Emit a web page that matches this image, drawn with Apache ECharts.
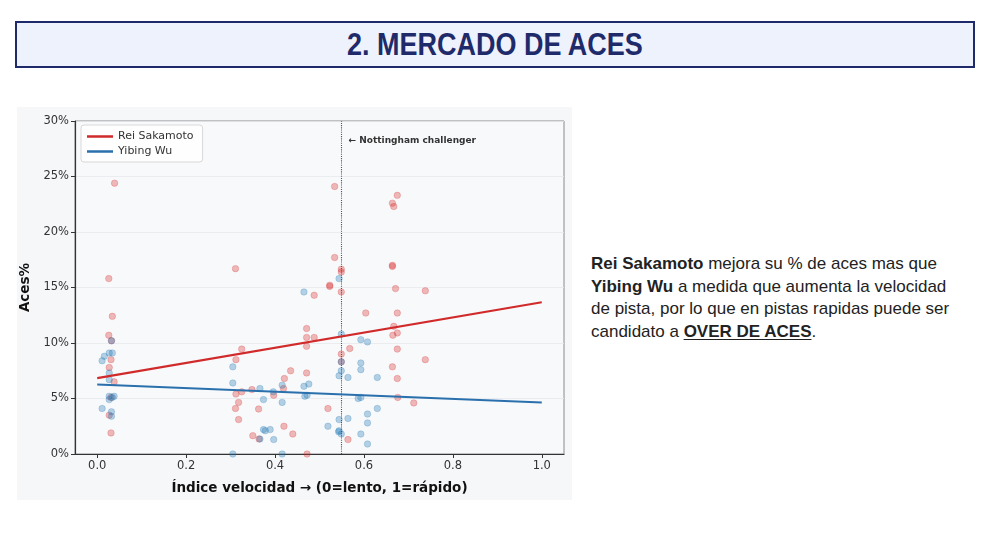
<!DOCTYPE html>
<html>
<head>
<meta charset="utf-8">
<script src="https://cdn.jsdelivr.net/npm/echarts@6/dist/echarts.min.js"></script>
<style>
  body { margin: 0; background: #fff; width: 984px; height: 541px; position: relative; overflow: hidden; }
  #title {
    position: absolute; left: 15px; top: 21px; width: 956px; height: 43px;
    border: 2px solid #1f2a6b; background: #eef2fc;
    color: #1f2a6b; font-family: "Liberation Sans", Arial, sans-serif;
    font-weight: bold; font-size: 31px; line-height: 43px; text-align: center;
  }
  #title span { display: inline-block; transform: scaleX(0.87); }
  #chart { position: absolute; left: 17px; top: 107px; width: 555px; height: 393px; background: #f6f7f9; }
  #note {
    position: absolute; left: 591px; top: 253px; width: 390px;
    font-family: "Liberation Sans", Arial, sans-serif; font-size: 17px; line-height: 22.7px; color: #222;
    white-space: nowrap;
  }
  #note u { text-underline-offset: 2px; }
</style>
</head>
<body>
<div id="title"><span>2. MERCADO DE ACES</span></div>
<div id="chart"></div>
<div id="note">
  <b>Rei Sakamoto</b> mejora su % de aces mas que<br>
  <b>Yibing Wu</b> a medida que aumenta la velocidad<br>
  de pista, por lo que en pistas rapidas puede ser<br>
  candidato a <b><u>OVER DE ACES</u></b>.
</div>
<script>
// puntos por partido: [indice velocidad, aces%]
const reiPoints = [
  [0.039, 24.4], [0.026, 15.8], [0.034, 12.4], [0.026, 10.7], [0.032, 10.2], [0.031, 8.5],
  [0.027, 7.8], [0.038, 6.5], [0.031, 5.1], [0.027, 3.5], [0.031, 1.9],
  [0.311, 16.7], [0.325, 9.45], [0.312, 8.5], [0.312, 5.4], [0.318, 4.65], [0.311, 4.1],
  [0.318, 3.1], [0.325, 5.6], [0.348, 5.8], [0.363, 4.05], [0.35, 1.65], [0.364, 1.35],
  [0.419, 5.9], [0.421, 6.8], [0.435, 7.5], [0.397, 5.3], [0.42, 2.5], [0.44, 1.8],
  [0.488, 14.3], [0.471, 11.3], [0.471, 10.5], [0.488, 10.5], [0.471, 9.7], [0.471, 7.3], [0.472, 0.0],
  [0.534, 24.1], [0.534, 17.7], [0.549, 16.65], [0.549, 16.4], [0.523, 15.2], [0.523, 15.1],
  [0.549, 14.6], [0.568, 9.5], [0.549, 9.0], [0.549, 8.3], [0.519, 4.1], [0.564, 1.3],
  [0.604, 12.7],
  [0.675, 23.3], [0.664, 22.6], [0.667, 22.3], [0.664, 17.0], [0.664, 16.9], [0.671, 14.9],
  [0.738, 14.7], [0.675, 12.7], [0.667, 11.5], [0.675, 10.9], [0.665, 10.7], [0.675, 9.45],
  [0.664, 7.85], [0.738, 8.5], [0.675, 6.8], [0.676, 5.1], [0.712, 4.6]
]
const yibingPoints = [
  [0.032, 10.2], [0.016, 8.8], [0.011, 8.4], [0.027, 9.1], [0.034, 9.1], [0.027, 7.3],
  [0.027, 6.7], [0.027, 5.2], [0.038, 5.2], [0.027, 4.9], [0.011, 4.1], [0.032, 3.8],
  [0.032, 3.4], [0.034, 5.1],
  [0.305, 7.85], [0.305, 6.4], [0.305, 0], [0.366, 5.9], [0.374, 4.9], [0.374, 2.2],
  [0.389, 2.2], [0.378, 2.1], [0.366, 1.35], [0.397, 1.3], [0.416, 6.2], [0.416, 4.65],
  [0.416, 0], [0.396, 5.6],
  [0.465, 14.6], [0.476, 6.3], [0.465, 6.1], [0.467, 5.2], [0.472, 5.3],
  [0.544, 15.8], [0.549, 10.8], [0.549, 8.3], [0.549, 7.5], [0.544, 7.05], [0.564, 6.9],
  [0.544, 3.1], [0.564, 3.2], [0.519, 2.5], [0.544, 2.1], [0.549, 1.8], [0.543, 2.0],
  [0.593, 10.3], [0.608, 10.1], [0.593, 8.2], [0.593, 7.6], [0.587, 5.0], [0.593, 5.1],
  [0.608, 3.6], [0.608, 2.8], [0.593, 1.8], [0.608, 0.9],
  [0.63, 6.9], [0.63, 4.1]
]
// rectas de tendencia
const reiTrend = [[0, 6.83], [1, 13.67]]
const yibingTrend = [[0, 6.26], [1, 4.64]]
const xTicks = [0, 0.2, 0.4, 0.6, 0.8, 1.0]
const nottinghamX = 0.552
const playerNames = ['Rei Sakamoto', 'Yibing Wu']

const chart = echarts.init(document.getElementById('chart'))
const tickFont = { fontFamily: 'DejaVu Sans', fontSize: 11.5, color: '#333' }

const option = {
  animation: false,
  textStyle: { fontFamily: 'DejaVu Sans' },
  grid: {
    left: 58, top: 14, right: 8, bottom: 46,
    outerBoundsMode: 'none',
    show: true, backgroundColor: '#f8f9fb', borderColor: '#8a8a8a', borderWidth: 1
  },
  legend: {
    data: playerNames,
    orient: 'vertical',
    left: 64, top: 18,
    icon: 'rect', itemWidth: 26, itemHeight: 2.5, itemGap: 4,
    padding: [6, 9, 5, 6],
    backgroundColor: 'rgba(255,255,255,0.85)',
    borderColor: '#d8d8d8', borderWidth: 1, borderRadius: 3,
    textStyle: { fontFamily: 'DejaVu Sans', fontSize: 11, color: '#333' }
  },
  xAxis: {
    type: 'value', min: -0.05, max: 1.05, position: 'bottom',
    name: 'Índice velocidad → (0=lento, 1=rápido)',
    nameLocation: 'middle', nameGap: 27,
    nameTextStyle: { fontFamily: 'DejaVu Sans', fontWeight: 'bold', fontSize: 13.5, color: '#111' },
    axisLine: { onZero: false, lineStyle: { color: '#333', width: 1.2 } },
    axisTick: { show: true, length: 4, customValues: xTicks, lineStyle: { color: '#333' } },
    axisLabel: { ...tickFont, margin: 6, customValues: xTicks, formatter: v => v.toFixed(1) },
    splitLine: { show: false }
  },
  yAxis: {
    type: 'value', min: 0, max: 30, interval: 5, position: 'left',
    name: 'Aces%',
    nameLocation: 'middle', nameGap: 37, nameRotate: 90,
    nameTextStyle: { fontFamily: 'DejaVu Sans', fontWeight: 'bold', fontSize: 13.5, color: '#111' },
    axisLine: { show: true, onZero: false, lineStyle: { color: '#333', width: 1.2 } },
    axisTick: { show: true, length: 4, lineStyle: { color: '#333' } },
    axisLabel: { ...tickFont, margin: 6, formatter: '{value}%' },
    splitLine: { lineStyle: { color: '#e6e8ec', width: 0.8 } }
  },
  series: [
    {
      name: 'Rei pts', type: 'scatter', data: reiPoints, symbolSize: 6.5,
      itemStyle: { color: 'rgba(214,39,40,0.4)', borderColor: 'rgba(214,39,40,0.28)', borderWidth: 1 },
      markLine: {
        silent: true, symbol: 'none', animation: false,
        label: { show: false },
        lineStyle: { type: 'dotted', color: '#555', width: 1.1 },
        data: [{ xAxis: nottinghamX }]
      },
      z: 2
    },
    {
      name: 'Yibing pts', type: 'scatter', data: yibingPoints, symbolSize: 6.5,
      itemStyle: { color: 'rgba(31,119,180,0.4)', borderColor: 'rgba(31,119,180,0.28)', borderWidth: 1 },
      z: 2
    },
    {
      name: playerNames[0], type: 'line', data: reiTrend, showSymbol: false, symbol: 'none',
      color: '#d02a2a', lineStyle: { color: '#d02a2a', width: 2.2 }, z: 4
    },
    {
      name: playerNames[1], type: 'line', data: yibingTrend, showSymbol: false, symbol: 'none',
      color: '#2a70ad', lineStyle: { color: '#2a70ad', width: 2.2 }, z: 4
    }
  ]
}
chart.setOption(option)

// etiqueta de la linea vertical
const topPt = chart.convertToPixel({ gridIndex: 0 }, [nottinghamX, 30])
chart.setOption({
  graphic: [{
    type: 'text', left: topPt[0] + 6, top: topPt[1] + 15, silent: true,
    style: { text: '← Nottingham challenger', fontFamily: 'DejaVu Sans', fontWeight: 'bold', fontSize: 9, fill: '#333' }
  }]
})
</script>
</body>
</html>
